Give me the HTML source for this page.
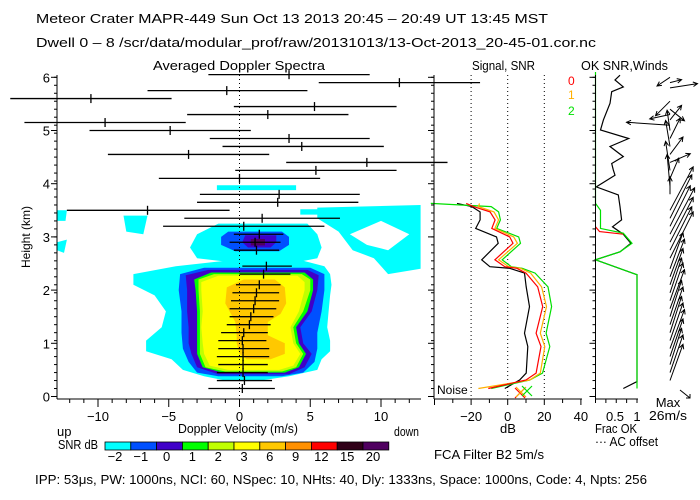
<!DOCTYPE html>
<html><head><meta charset="utf-8">
<style>
html,body{margin:0;padding:0;background:#fff;}
svg{display:block;font-family:"Liberation Sans",sans-serif;}
</style></head>
<body>
<svg id="chart" width="700" height="500" viewBox="0 0 700 500">
<rect x="0" y="0" width="700" height="500" fill="#fff"/>
<g font-size="13" fill="#000">
<text x="36" y="23" textLength="512" lengthAdjust="spacingAndGlyphs">Meteor Crater   MAPR-449   Sun Oct 13 2013 20:45 – 20:49 UT 13:45 MST</text>
<text x="36" y="47" textLength="560" lengthAdjust="spacingAndGlyphs">Dwell  0 –  8   /scr/data/modular_prof/raw/20131013/13-Oct-2013_20-45-01.cor.nc</text>
<text x="153" y="70" textLength="172" lengthAdjust="spacingAndGlyphs">Averaged Doppler Spectra</text>
<text x="472" y="70" textLength="63" lengthAdjust="spacingAndGlyphs">Signal, SNR</text>
<text x="581" y="70" textLength="87" lengthAdjust="spacingAndGlyphs">OK SNR,Winds</text>
<text x="57" y="436">up</text>
<text x="178" y="433" textLength="120" lengthAdjust="spacingAndGlyphs">Doppler Velocity (m/s)</text>
<text x="394" y="436" textLength="25" lengthAdjust="spacingAndGlyphs">down</text>
<text x="58" y="449" textLength="40" lengthAdjust="spacingAndGlyphs">SNR dB</text>
<text x="508" y="433" text-anchor="middle">dB</text>
<text x="595" y="433" textLength="42" lengthAdjust="spacingAndGlyphs">Frac OK</text>
<text x="595" y="446" textLength="63" lengthAdjust="spacingAndGlyphs">··· AC offset</text>
<text x="668" y="407" text-anchor="middle">Max</text>
<text x="649" y="420" textLength="38" lengthAdjust="spacingAndGlyphs">26m/s</text>
<text x="434" y="459" textLength="110" lengthAdjust="spacingAndGlyphs">FCA Filter B2   5m/s</text>
<text x="35" y="484" textLength="612" lengthAdjust="spacingAndGlyphs">IPP:  53μs,  PW: 1000ns,  NCI:  60,  NSpec: 10, NHts: 40,  Dly: 1333ns,  Space: 1000ns,  Code: 4,  Npts: 256</text>
<text x="437" y="394" font-size="12">Noise</text>
<text x="568" y="85" fill="#ff0000" font-size="12">0</text>
<text x="568" y="99" fill="#ffb000" font-size="12">1</text>
<text x="568" y="115" fill="#00e000" font-size="12">2</text>
</g>
<g id="contours"></g>
<g id="marks"></g>
<g id="axes" stroke="#000" fill="none"></g>
</svg>
<script>
// ---------- data ----------
const specHeights=[6.05,5.9,5.75,5.6,5.45,5.3,5.15,5.0,4.85,4.7,4.55,4.4,4.25,4.1,3.8,3.65,3.5,3.35,3.2,3.05,2.9,2.75,2.45,2.3,2.1,1.95,1.8,1.65,1.5,1.35,1.2,1.05,0.9,0.75,0.6,0.45,0.3,0.15];
const specLow=[-2.2,5.6,-6.5,-16.2,-0.4,-3.7,-15.2,-10.6,-2.1,-1.2,-9.3,3.3,-0.3,-5.7,-2.8,-3.0,-12.2,-3.9,-5.4,-0.4,-0.7,-0.4,0.2,0,-0.25,-0.5,-0.6,-0.7,-0.7,-0.9,-1.3,-1.5,-1.5,-1.6,-1.5,-1.6,-1.6,-2.2];
const specHigh=[9.2,17.0,4.8,-4.8,11.1,7.7,-3.8,0.8,9.2,10.2,2.1,14.7,11.1,5.7,8.5,8.4,-0.7,7.1,6.0,3.1,2.9,2.8,3.7,3.6,2.9,2.8,2.8,2.6,2.4,2.2,2.0,1.9,2.1,2.1,2.0,2.0,2.3,2.5];
const specMean=[3.5,11.3,-0.9,-10.5,5.3,2.0,-9.5,-4.9,3.5,4.4,-3.6,9.0,5.4,0,2.8,2.7,-6.5,1.6,0.3,1.4,1.1,1.2,1.9,1.7,1.4,1.2,1.1,1.0,0.8,0.7,0.3,0.2,0.25,0.25,0.25,0.25,0.35,0.2];

const snrHeights=[3.63,3.57,3.47,3.32,3.16,3.0,2.88,2.57,2.44,2.41,2.32,2.06,1.69,1.19,0.94,0.44,0.31,0.15];
const snrBeam0=[-22.7,-18.7,-9.6,-6.9,-8.7,1.1,2.9,-7,-1.6,5,10,16.4,19.1,15.5,18.2,15.5,10,-10.6];
const snrBeam1=[-15.4,-16,-7.5,-5,-7,3.3,5.3,-5,0.5,7,12.5,18.5,21.2,17.8,20.3,17.8,12,-16];
const snrBeam2=[-42,-9,-5,-4,-6,6,7,-3,2,8,15,22,24,21,23,19,12,-9];
const signalBlack=[-27.7,-19.6,-15.1,-15.1,-17.5,-6.1,-5.2,-14.2,-9.7,1.1,9.2,10.1,11.9,9.2,11,10.1,6.5,-1.6];

const fracBlackH=[6.04,5.95,5.82,5.73,5.51,5.2,5.01,4.85,4.7,4.51,4.38,4.26,4.16,3.94,3.79,3.57,3.32,3.19,3.05,2.88,2.72,2.57,2.29,0.28,0.15];
const fracBlack=[0.59,0.47,0.67,0.39,0.35,0.19,0.12,0.8,0.35,0.67,0.39,0.43,0.47,0.02,0.55,0.59,0.63,0.41,0.67,0.85,0.59,0,1,1,0.67];
const fracGreenH=[6.1,3.63,3.5,3.16,3.07,2.88,2.72,2.57,2.29,0.15];
const fracGreen=[0,0,0.12,0.12,0.67,0.88,0.59,0,1,1];

const windH=[6.0,5.9,5.8,5.55,5.4,5.3,5.2,5.1,5.0,4.85,4.7,4.55,4.4,4.25,4.1,3.95,3.8,3.5,3.35,3.2,3.05,2.9,2.75,2.6,2.4,2.25,2.1,1.95,1.8,1.65,1.5,1.35,1.2,1.05,0.9,0.75,0.6,0.45,0.3];
const windU=[-9,8,19,-10,10,-14,8,-30,-2,7,-3,9,14,-3,6,-2,0,16,15,14,17,16,15,16,9,10,9,8,9,10,8,9,8,9,10,9,8,9,9];
const windV=[-6,2,3,-10,-8,-3,10,2,14,14,18,12,6,20,14,22,12,30,30,28,32,31,30,32,25,26,25,24,26,27,25,26,25,26,27,26,25,26,25];

const cbarLabels=["-2","-1","0","1","2","3","6","9","12","15","20"];
const cbarColors=["#00ffff","#0050ff","#4000c8","#00ff00","#c0ff00","#ffff00","#ffc800","#ff9000","#ff0000","#300018","#500060"];

const cyanMain=[[2.55,-1,4.5],[2.45,-4.5,6],[2.3,-7.5,6.4],[2.1,-7.5,6.5],[1.9,-6,6.4],[1.6,-5.2,6.3],[1.3,-5.5,6.2],[1.05,-6.6,6.4],[0.85,-6.6,6.4],[0.7,-4.8,5.8],[0.5,-4,5.5],[0.38,-2.5,3.5],[0.3,-1,1.5]];
const blueMain=[[2.42,-2.5,5],[2.3,-4.2,6.0],[2.0,-4.3,6.0],[1.6,-4.1,5.8],[1.2,-4.1,5.5],[0.9,-4,5.5],[0.65,-3.6,5.3],[0.45,-3,4.5],[0.38,-1.5,3]];
const indigoMain=[[2.38,-2.2,4.8],[2.28,-3.8,5.6],[2.0,-3.7,5.5],[1.6,-3.7,5.1],[1.3,-3.6,4.3],[1.0,-3.6,4.5],[0.8,-3.4,5.1],[0.55,-3,4.6],[0.42,-1.5,3.5]];
const greenMain=[[2.33,-2,4.6],[2.2,-3.2,5.2],[2.0,-3.1,5.2],[1.6,-3.0,4.8],[1.3,-3.0,4.0],[1.0,-3.0,4.2],[0.8,-3,4.7],[0.55,-2.6,4.2],[0.45,-1.2,3.2]];
const ygMain=[[2.3,-1.8,4.4],[2.2,-2.9,5.0],[2.0,-2.9,5.0],[1.6,-2.8,4.5],[1.3,-2.8,3.8],[1.0,-2.8,4.0],[0.8,-2.8,4.5],[0.55,-2.4,4.0],[0.47,-1,3.0]];
const yellowMain=[[2.27,-1.5,4.1],[2.15,-2.7,4.6],[2.0,-2.7,4.6],[1.6,-2.6,4.2],[1.3,-2.7,3.6],[1.0,-2.6,3.8],[0.8,-2.5,4.3],[0.58,-2.1,3.8],[0.5,-0.8,2.8]];
const goldMain=[[2.2,0.3,2.5],[2.05,-0.9,3.2],[1.75,-1.0,3.3],[1.55,-0.6,2.9],[1.4,-0.3,2.0],[1.15,-0.2,2.0],[1.0,-0.2,3.2],[0.8,0,3.2],[0.7,0.5,2.2]];
const cyanUpper=[[3.25,-1.5,4.8],[3.05,-3.0,5.5],[2.8,-3.5,5.8],[2.6,-3,5.5],[2.52,-0.5,4]];
const blueUpper=[[3.1,-0.8,3.0],[3.0,-1.3,3.5],[2.85,-1.3,3.5],[2.73,-0.3,2.8]];
const indigoUpper=[[3.03,0.4,2.6],[2.9,0.2,2.6],[2.8,0.6,2.2]];
const purpleUpper=[[2.96,0.8,1.8],[2.84,0.8,1.8]];

// ---------- scales ----------
const vx=v=>239.5+v*14.15;
const hy=h=>396.5-h*53.2;
const dbx=d=>507.7+d*1.83;
const fx=f=>595.5+f*41.5;
const NS='http://www.w3.org/2000/svg';
function mk(tag,parent,attrs){const e=document.createElementNS(NS,tag);for(const k in attrs)e.setAttribute(k,attrs[k]);parent.appendChild(e);return e;}
const C=document.getElementById('contours'),M=document.getElementById('marks'),A=document.getElementById('axes');

function blob(rows,color,name){
  const pts=[];rows.forEach(r=>pts.push(vx(r[1]).toFixed(1)+','+hy(r[0]).toFixed(1)));
  for(let i=rows.length-1;i>=0;i--)pts.push(vx(rows[i][2]).toFixed(1)+','+hy(rows[i][0]).toFixed(1));
  const p=mk('polygon',C,{points:pts.join(' '),fill:color});
  
  
}
function patch(vh,color,name){
  const p=mk('polygon',C,{points:vh.map(q=>vx(q[0]).toFixed(1)+','+hy(q[1]).toFixed(1)).join(' '),fill:color});
  
  
}
patch([[5.5,3.55],[12.8,3.6],[12.8,2.4],[10.5,2.3],[9.5,2.6],[8,2.75],[7,3.1],[5.5,3.35]],'#00ffff','cyan-band-right');
patch([[7.8,3.05],[10,3.3],[12,3.05],[10.5,2.75],[9,2.85]],'#ffffff','cyan-band-hole');
patch([[4.3,3.52],[5.6,3.52],[5.6,3.42],[4.3,3.42]],'#00ffff','cyan-band-piece');
patch([[-12.9,3.5],[-12.2,3.5],[-12.3,3.3],[-12.9,3.3]],'#00ffff','cyan-patch-left-1');
patch([[-8.2,3.4],[-6.5,3.4],[-6.8,3.05],[-8,3.1]],'#00ffff','cyan-patch-left-2');
patch([[-12.9,2.9],[-12.2,2.95],[-12.4,2.7],[-12.9,2.75]],'#00ffff','cyan-patch-left-3');
patch([[-1.6,3.97],[4,3.97],[4,3.88],[-1.6,3.88]],'#00ffff','cyan-patch-4km');
blob(cyanUpper,'#00ffff','contour-upper-snr-minus2');
blob(blueUpper,'#0050ff','contour-upper-snr-minus1');
blob(indigoUpper,'#4000c8','contour-upper-snr-0');
blob(purpleUpper,'#500060','contour-upper-snr-20');
blob(cyanMain,'#00ffff','contour-snr-minus2');
blob(blueMain,'#0050ff','contour-snr-minus1');
blob(indigoMain,'#4000c8','contour-snr-0');
blob(greenMain,'#00ff00','contour-snr-1');
blob(ygMain,'#c0ff00','contour-snr-2');
blob(yellowMain,'#ffff00','contour-snr-3');
blob(goldMain,'#ffc800','contour-snr-6');

const zl=mk('line',M,{x1:vx(0),y1:75,x2:vx(0),y2:399,stroke:'#000','stroke-dasharray':'1,3'});



specHeights.forEach((h,i)=>{
  const y=hy(h);
  const l=mk('line',M,{x1:vx(specLow[i]),y1:y,x2:vx(specHigh[i]),y2:y,stroke:'#000','stroke-width':1.3});
  
  
  const t=mk('line',M,{x1:vx(specMean[i]),y1:y-4.5,x2:vx(specMean[i]),y2:y+4.5,stroke:'#000','stroke-width':1.3});
  
  
});

[-20,0,20].forEach(d=>{
  const l=mk('line',M,{x1:dbx(d),y1:75,x2:dbx(d),y2:399,stroke:'#000','stroke-dasharray':'1,3'});
  
  
});
function series(hs,vals,sx,color,name){
  const pts=hs.map((h,i)=>sx(vals[i]).toFixed(1)+','+hy(h).toFixed(1)).join(' ');
  const p=mk('polyline',M,{points:pts,fill:'none',stroke:color,'stroke-width':1.2});
  
  
}
series(snrHeights,signalBlack,dbx,'#000','signal-line');
series(snrHeights,snrBeam2,dbx,'#00e000','snr-beam-2');
series(snrHeights,snrBeam1,dbx,'#ffb000','snr-beam-1');
series(snrHeights,snrBeam0,dbx,'#ff0000','snr-beam-0');
[[520,393,'#ff0000'],[521,392,'#ffb000'],[527,391,'#00e000']].forEach((m,i)=>{
  const g=mk('path',M,{d:`M${m[0]-5},${m[1]-5}L${m[0]+5},${m[1]+5}M${m[0]+5},${m[1]-5}L${m[0]-5},${m[1]+5}`,stroke:m[2],'stroke-width':1.2});
  
  
});

series(fracBlackH,fracBlack,fx,'#000','frac-ok-line');
series([3.19,3.1,3.05],[0,0.1,0.67],fx,'#ff0000','frac-ok-beam-0');
series(fracGreenH,fracGreen,fx,'#00e000','frac-ok-beam-2');

const ws=1.45;
windH.forEach((h,i)=>{
  const x0=670,y0=hy(h),x1=x0+windU[i]*ws,y1=y0-windV[i]*ws;
  const ang=Math.atan2(y1-y0,x1-x0);
  const a1=ang+Math.PI*0.85,a2=ang-Math.PI*0.85;
  const d=`M${x0.toFixed(1)},${y0.toFixed(1)}L${x1.toFixed(1)},${y1.toFixed(1)}M${(x1+5*Math.cos(a1)).toFixed(1)},${(y1+5*Math.sin(a1)).toFixed(1)}L${x1.toFixed(1)},${y1.toFixed(1)}L${(x1+5*Math.cos(a2)).toFixed(1)},${(y1+5*Math.sin(a2)).toFixed(1)}`;
  const p=mk('path',M,{d:d,stroke:'#000',fill:'none','stroke-width':1});
  
  
});
const ma=mk('path',M,{d:'M680,390L690,398M686,398L690,398L690,394',stroke:'#000',fill:'none'});



function axisLine(x1,y1,x2,y2,name){const l=mk('line',A,{x1,y1,x2,y2,stroke:'#000'});}
axisLine(57,75,57,399,'y-axis');
axisLine(57,399,421,399,'x-axis');
axisLine(434,75,434,399,'snr-y-axis');
axisLine(434,399,582,399,'snr-x-axis');
axisLine(595.5,75,595.5,399,'frac-y-axis');
axisLine(595.5,399,638,399,'frac-x-axis');
[57,434,595.5].forEach(ax=>{
  for(let k=0;k<=40;k++){const h=k*0.15;if(h>6.05)break;const y=hy(h);mk('line',A,{x1:ax-3,y1:y,x2:ax,y2:y});}
  for(let h=0;h<=6;h++){const y=hy(h);mk('line',A,{x1:ax-6,y1:y,x2:ax,y2:y});}
});
for(let v=-12;v<=12;v++){const x=vx(v);mk('line',A,{x1:x,y1:399,x2:x,y2:v%5===0?407:403});}
for(let d=-40;d<=40;d+=10){const x=dbx(d);mk('line',A,{x1:x,y1:399,x2:x,y2:d%20===0?405:403});}
for(let f=0;f<=1.001;f+=0.25){const x=fx(f);mk('line',A,{x1:x,y1:399,x2:x,y2:403});}
const T=document.getElementById('chart');
function label(x,y,s,name,anchor){const t=mk('text',T,{x,y,'font-size':13,'text-anchor':anchor||'middle',fill:'#000'});t.textContent=s;}
for(let h=0;h<=6;h++)label(50,hy(h)+5,String(h),'y-tick-label','end');
[-10,-5,0,5,10].forEach(v=>label(vx(v),421,v<0?'−'+(-v):String(v),'x-tick-label'));
[-20,0,20,40].forEach(d=>label(dbx(d),421,d<0?'−'+(-d):String(d),'db-tick-label'));
label(615,421,'0.5','frac-tick-label');label(637,421,'1','frac-tick-label');
const yt=mk('text',T,{x:0,y:0,'font-size':12,'text-anchor':'middle',transform:'translate(30,237) rotate(-90)',fill:'#000'});
yt.textContent='Height (km)';


cbarColors.forEach((c,i)=>{
  const r=mk('rect',T,{x:105+i*25.8,y:442,width:25.8,height:8,fill:c,stroke:'#000','stroke-width':0.8});
  
  
  label(105+i*25.8+10,461,cbarLabels[i].replace('-','−'),'colorbar-label');
});
</script>
</body></html>
